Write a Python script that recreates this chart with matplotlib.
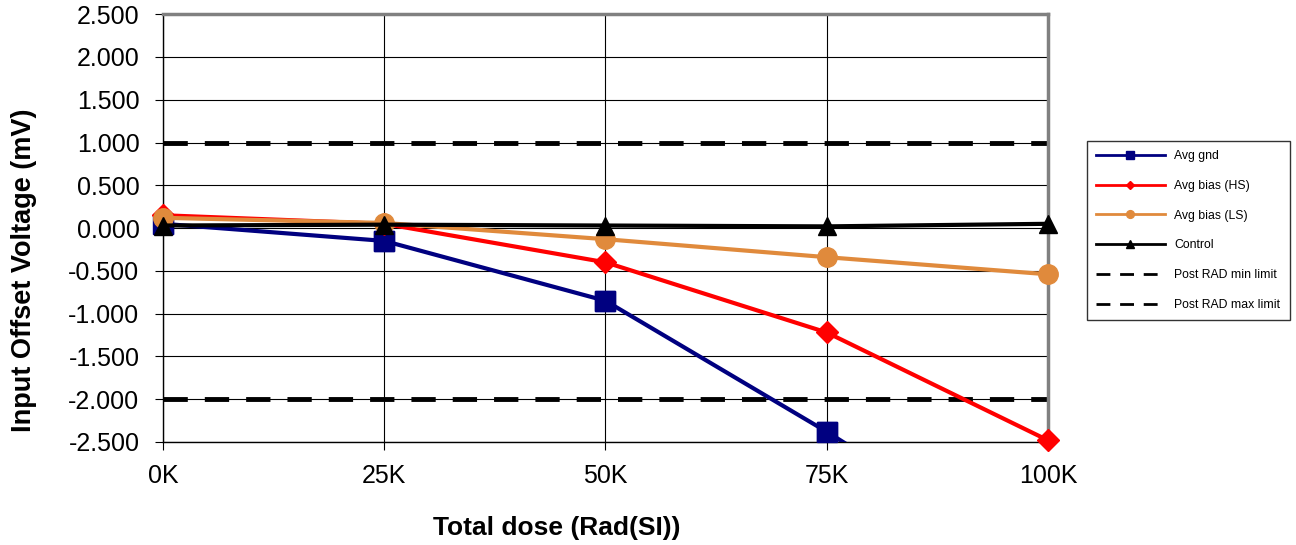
import matplotlib.pyplot as plt
import numpy as np

plt.rcParams['font.family'] = ['Liberation Sans', 'DejaVu Sans']

# dose points (krad)
dose = [0, 25, 50, 75, 100]
dose_labels = ['0K', '25K', '50K', '75K', '100K']

avg_gnd = [0.05, -0.15, -0.85, -2.38, -4.0]
avg_bias_hs = [0.15, 0.05, -0.40, -1.22, -2.48]
avg_bias_ls = [0.12, 0.06, -0.13, -0.34, -0.54]
control = [0.03, 0.04, 0.03, 0.02, 0.05]
min_limit = [-2.0] * 5
max_limit = [1.0] * 5

fig = plt.figure(figsize=(12.96, 5.45), dpi=100)
ax = fig.add_axes([0.1258, 0.189, 0.6828, 0.785])

# gnd goes off the bottom: clip the line, keep in-range markers unclipped
ax.plot(dose, avg_gnd, color='#000080', lw=3, marker='s', ms=14, markevery=[0, 1, 2, 3],
        label='Avg gnd', zorder=3)
gnd_in = np.ma.masked_less(avg_gnd, -2.5)
ax.plot(dose, gnd_in, color='#000080', lw=0, marker='s', ms=14, clip_on=False, zorder=3)
ax.plot(dose, avg_bias_hs, color='#FF0000', lw=3, marker='D', ms=11, label='Avg bias (HS)',
        zorder=4, clip_on=False)
ax.plot(dose, avg_bias_ls, color='#E08A3C', lw=3, marker='o', ms=14, label='Avg bias (LS)',
        zorder=5, clip_on=False)
ax.plot(dose, control, color='black', lw=3, marker='^', ms=13, label='Control',
        zorder=6, clip_on=False)
ax.plot(dose, min_limit, color='black', lw=3.5, ls=(0, (5, 3.5)), label='Post RAD min limit', zorder=2)
ax.plot(dose, max_limit, color='black', lw=3.5, ls=(0, (5, 3.5)), label='Post RAD max limit', zorder=2)

ax.set_xlim(0, 100)
ax.set_ylim(-2.5, 2.5)
ax.set_xticks(dose)
ax.set_xticklabels(dose_labels)
yt = np.arange(-2.5, 2.51, 0.5)
ax.set_yticks(yt)
ax.set_yticklabels(['%.3f' % v for v in yt])
ax.tick_params(labelsize=18, length=6, color='black')
ax.tick_params(axis='x', pad=10)
ax.tick_params(axis='y', pad=11)
ax.grid(True, color='black', lw=0.8)

for s in ['top', 'right']:
    ax.spines[s].set_color('#808080')
    ax.spines[s].set_linewidth(2.5)
for s in ['left', 'bottom']:
    ax.spines[s].set_color('black')
    ax.spines[s].set_linewidth(1)

ax.set_xlabel('Total dose (Rad(SI))', fontsize=19, fontweight='bold')
ax.set_ylabel('Input Offset Voltage (mV)', fontsize=19.5, fontweight='bold')
ax.xaxis.set_label_coords(0.445, -0.172)
ax.yaxis.set_label_coords(-0.142, 0.402)

h, l = ax.get_legend_handles_labels()
leg = fig.legend(h, l, loc='upper left', bbox_to_anchor=(0.8387, 0.7413), borderaxespad=0,
                 fontsize=8.8, frameon=True, fancybox=False, edgecolor='black',
                 markerscale=0.4, handlelength=5.6, labelspacing=1.45, borderpad=0.76,
                 handletextpad=0.8)
leg.get_frame().set_linewidth(1)
for line in leg.get_lines():
    line.set_linewidth(2)

fig.savefig('out.png', dpi=100)
